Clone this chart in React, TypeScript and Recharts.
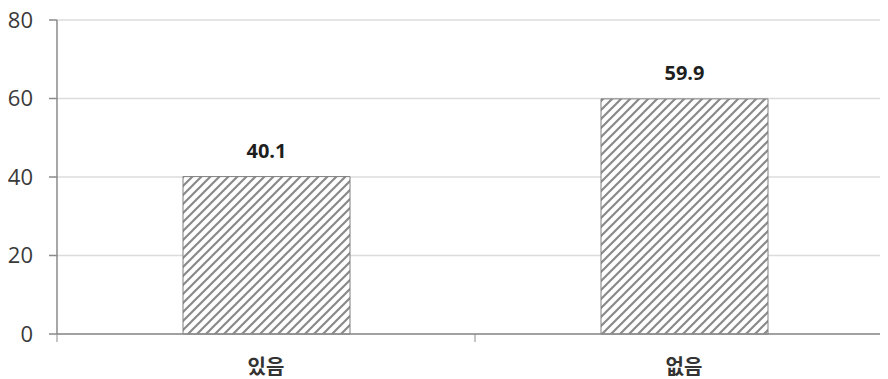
import React from 'react';
import { BarChart, Bar, XAxis, YAxis, CartesianGrid, LabelList } from 'recharts';

const categories = ['있음', '없음'];
const values = [40.1, 59.9];
const yTicks = [0, 20, 40, 60, 80];

const data = categories.map((name, i) => ({ name, value: values[i] }));

const AXIS = '#8a8a8a';
const FONT = "'Open Sans', 'Noto Sans CJK KR', sans-serif";

// Category label plus a short divider tick at the left edge of each band
const CategoryTick = (props: any) => {
  const { x, y, payload } = props;
  const half = payload && typeof payload.offset === 'number' ? payload.offset : 0;
  const bx = x - half;
  return (
    <g>
      <line x1={bx} x2={bx} y1={y} y2={y + 8} stroke={AXIS} strokeWidth={1} />
      <text
        x={x}
        y={y + 31}
        textAnchor="middle"
        dominantBaseline="central"
        fontFamily="'Noto Sans CJK KR', sans-serif"
        fontWeight={700}
        fontSize={20}
        fill="#333"
      >
        {payload.value}
      </text>
    </g>
  );
};

export default function App() {
  return (
    <div style={{ marginLeft: -8, marginTop: -8, width: 888, height: 379, overflow: 'hidden' }}>
      <BarChart
        width={893}
        height={379}
        data={data}
        margin={{ top: 20, right: 0, left: 0, bottom: 0 }}
        barSize={167}
      >
        <defs>
          <pattern id="hatch" patternUnits="userSpaceOnUse" width={9} height={9}>
            <rect width={9} height={9} fill="#ffffff" />
            <path d="M-2.25,2.25 l4.5,-4.5 M0,9 l9,-9 M6.75,11.25 l4.5,-4.5" stroke="#8a8a8a" strokeWidth={2.2} />
          </pattern>
        </defs>
        <CartesianGrid vertical={false} stroke="#dcdcdc" strokeWidth={1.5} />
        <XAxis
          dataKey="name"
          height={45}
          axisLine={{ stroke: AXIS, strokeWidth: 1.5 }}
          tickLine={false}
          tickSize={0}
          tickMargin={0}
          tick={<CategoryTick />}
          interval={0}
        />
        <YAxis
          width={57}
          domain={[0, 80]}
          ticks={yTicks}
          axisLine={{ stroke: AXIS, strokeWidth: 1.5 }}
          tickLine={{ stroke: AXIS, strokeWidth: 1.5 }}
          tickSize={8}
          tickMargin={16}
          tick={{ fontSize: 22, fill: '#3a3a3a', fontFamily: FONT }}
        />
        <Bar
          dataKey="value"
          fill="url(#hatch)"
          stroke="#7f7f7f"
          strokeWidth={1}
          isAnimationActive={false}
        >
          <LabelList
            dataKey="value"
            position="top"
            offset={19}
            fontSize={20}
            fontWeight={700}
            fill="#1e1e1e"
            fontFamily={FONT}
          />
        </Bar>
      </BarChart>
    </div>
  );
}
